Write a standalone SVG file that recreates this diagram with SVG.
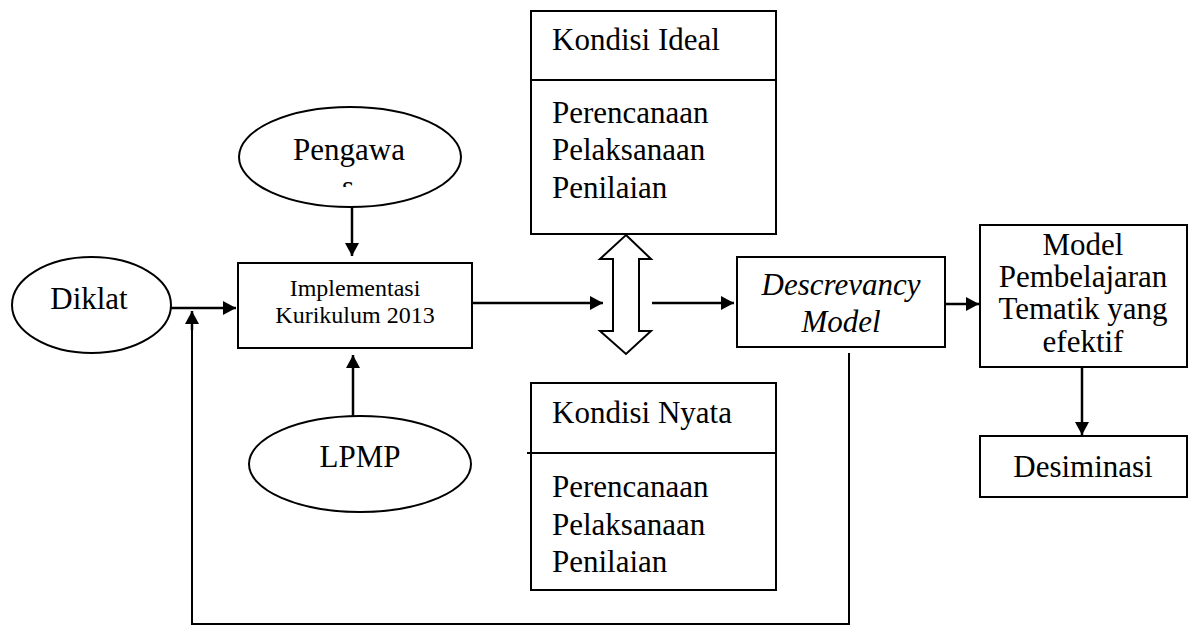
<svg xmlns="http://www.w3.org/2000/svg" width="1188" height="629" viewBox="0 0 1188 629">
  <style>
    .shape { fill: #ffffff; stroke: #000000; stroke-width: 2; }
    .line { fill: none; stroke: #000000; stroke-width: 2.5; }
    .thin { fill: none; stroke: #000000; stroke-width: 2; }
    text { font-family: "Liberation Serif", "Times New Roman", serif; fill: #000000; }
    .big { font-size: 31px; }
    .small { font-size: 24px; }
    .mid { text-anchor: middle; }
    .ital { font-style: italic; }
  </style>
  <defs>
    <marker id="arrow" markerWidth="14" markerHeight="14" refX="13" refY="7" orient="auto" markerUnits="userSpaceOnUse">
      <path d="M0,0 L13,7 L0,14 Z" fill="#000000"/>
    </marker>
    <clipPath id="cut-line">
      <rect x="300" y="170" width="100" height="17"/>
    </clipPath>
  </defs>

  <rect width="1188" height="629" fill="#ffffff"/>

  <!-- connectors -->
  <g id="connectors">
    <line class="line" x1="171" y1="308" x2="236" y2="308" marker-end="url(#arrow)"/>
    <line class="line" x1="352" y1="207" x2="352" y2="256" marker-end="url(#arrow)"/>
    <line class="line" x1="353" y1="416" x2="353" y2="355" marker-end="url(#arrow)"/>
    <line class="line" x1="472" y1="303" x2="603" y2="303" marker-end="url(#arrow)"/>
    <line class="line" x1="652" y1="303" x2="734" y2="303" marker-end="url(#arrow)"/>
    <line class="line" x1="945" y1="304" x2="979" y2="304" marker-end="url(#arrow)"/>
    <line class="line" x1="1082" y1="367" x2="1082" y2="435" marker-end="url(#arrow)"/>
    <polyline class="thin" points="849,353 849,624 192,624 192,326"/>
    <line class="line" x1="192" y1="330" x2="192" y2="311" marker-end="url(#arrow)"/>
    <!-- two-way comparison arrow between the two condition boxes -->
    <polygon class="shape" points="626,235 651,259 639,259 639,331 651,331 626,354 600,331 613,331 613,259 600,259"/>
  </g>

  <g id="diklat">
    <ellipse class="shape" cx="91.5" cy="305" rx="79.5" ry="48"/>
    <text class="big mid" x="89" y="309">Diklat</text>
  </g>

  <g id="pengawas">
    <ellipse class="shape" cx="350" cy="157" rx="111" ry="50"/>
    <text class="big mid" x="349" y="160">Pengawa</text>
    <text class="big mid" x="348" y="197" clip-path="url(#cut-line)">s</text>
  </g>

  <g id="implementasi">
    <rect class="shape" x="238" y="263" width="234" height="85"/>
    <text class="small mid" x="355" y="296">Implementasi</text>
    <text class="small mid" x="355" y="323">Kurikulum 2013</text>
  </g>

  <g id="lpmp">
    <ellipse class="shape" cx="360" cy="464" rx="111" ry="48"/>
    <text class="big mid" x="360" y="467">LPMP</text>
  </g>

  <g id="kondisi-ideal">
    <rect class="shape" x="531" y="11" width="245" height="223"/>
    <line class="thin" x1="531" y1="80" x2="776" y2="80"/>
    <text class="big" x="552" y="50">Kondisi Ideal</text>
    <text class="big" x="552" y="123">Perencanaan</text>
    <text class="big" x="552" y="160">Pelaksanaan</text>
    <text class="big" x="552" y="198">Penilaian</text>
  </g>

  <g id="kondisi-nyata">
    <rect class="shape" x="531" y="383" width="245" height="207"/>
    <line class="thin" x1="527" y1="453" x2="776" y2="453"/>
    <text class="big" x="552" y="423">Kondisi Nyata</text>
    <text class="big" x="552" y="497">Perencanaan</text>
    <text class="big" x="552" y="535">Pelaksanaan</text>
    <text class="big" x="552" y="572">Penilaian</text>
  </g>

  <g id="descrevancy">
    <rect class="shape" x="737" y="257" width="208" height="90"/>
    <text class="big mid ital" x="841" y="295">Descrevancy</text>
    <text class="big mid ital" x="841" y="332">Model</text>
  </g>

  <g id="model-pembelajaran">
    <rect class="shape" x="980" y="225" width="207" height="142"/>
    <text class="big mid" x="1083" y="255">Model</text>
    <text class="big mid" x="1083" y="287">Pembelajaran</text>
    <text class="big mid" x="1083" y="319">Tematik yang</text>
    <text class="big mid" x="1083" y="352">efektif</text>
  </g>

  <g id="desiminasi">
    <rect class="shape" x="980" y="436" width="207" height="61"/>
    <text class="big mid" x="1083" y="477">Desiminasi</text>
  </g>
</svg>
